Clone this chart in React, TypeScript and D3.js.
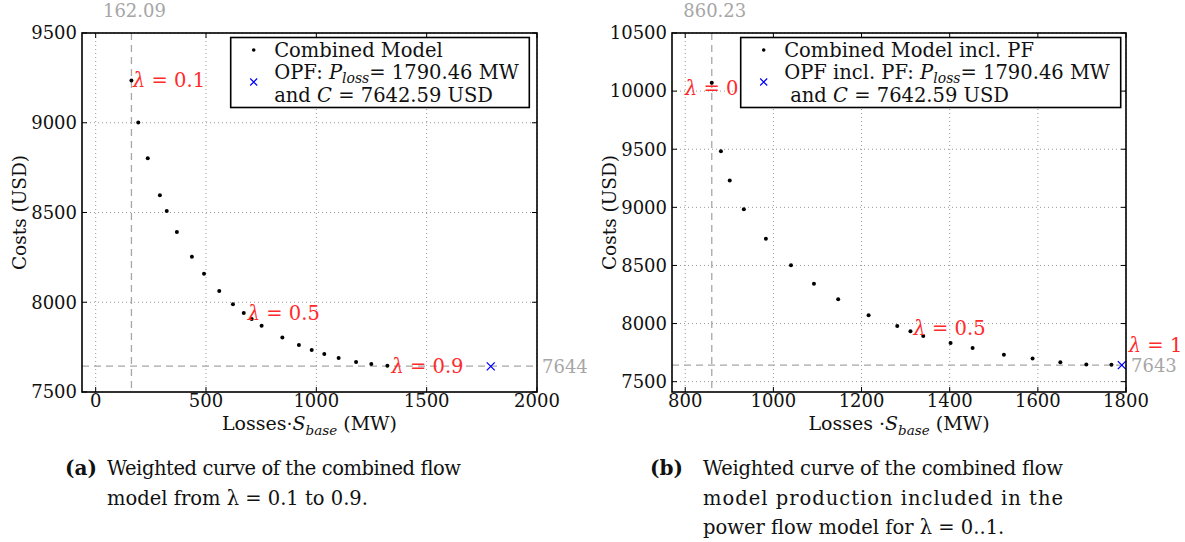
import React from "react";
import * as d3 from "d3";

// ---------- data ----------
const leftLoss = [162.09, 193, 236, 291, 322, 368, 436, 491, 560, 622, 671, 707, 752, 846, 921, 979, 1036, 1101, 1180, 1249, 1322];
const leftCost = [9236, 9002, 8802, 8596, 8508, 8391, 8254, 8159, 8063, 7989, 7940, 7907, 7869, 7803, 7762, 7734, 7712, 7689, 7667, 7656, 7646];
const rightLoss = [860.23, 881, 901, 933, 983, 1040, 1092, 1147, 1216, 1281, 1311, 1340, 1402, 1452, 1523, 1588, 1651, 1710, 1767];
const rightCost = [10073, 9482, 9231, 8983, 8729, 8502, 8343, 8208, 8072, 7979, 7934, 7893, 7832, 7789, 7732, 7700, 7668, 7648, 7645];
const opfLoss = 1790.46;
const opfCost = 7642.59;
const leftXTicks = [0, 500, 1000, 1500, 2000];
const leftYTicks = [7500, 8000, 8500, 9000, 9500];
const rightXTicks = [800, 1000, 1200, 1400, 1600, 1800];
const rightYTicks = [7500, 8000, 8500, 9000, 9500, 10000, 10500];
const leftLambdaLabels = [
  { idx: 0, text: "0.1" },
  { idx: 10, text: "0.5" },
  { idx: 20, text: "0.9" },
];
const rightLambdaLabels = [
  { idx: 0, text: "0" },
  { idx: 10, text: "0.5" },
];

const SERIF = "DejaVu Serif, serif";
const RED = "#ff2b2b";
const GREY = "#a6a6a6";

type PanelProps = {
  x0: number; x1: number; y0: number; y1: number;
  xDomain: [number, number]; yDomain: [number, number];
  xTicks: number[]; yTicks: number[];
  xs: number[]; ys: number[];
  vLine: number; vLabel: string; hLine: number; hLabel: string;
  lambdas: { idx: number; text: string }[];
  lambdaStyle: "left" | "right";
  legend: { x: number; w: number; line1: string; line2: string; indent3: number };
  xLabelPrefix: string;
};

const T = (size: number) => ({ fontFamily: SERIF, fontSize: size });

function Lambda({ x, y, text, anchor = "start" }: { x: number; y: number; text: string; anchor?: string }) {
  return (
    <text x={x} y={y} dy="0.35em" fill={RED} style={T(19.5)} textAnchor={anchor}>
      <tspan fontStyle="italic">λ</tspan> = {text}
    </text>
  );
}

function Panel(p: PanelProps) {
  const xs = d3.scaleLinear().domain(p.xDomain).range([p.x0, p.x1]);
  const ys = d3.scaleLinear().domain(p.yDomain).range([p.y1, p.y0]);
  const tick = 5;
  const vx = xs(p.vLine);
  const hy = ys(p.hLine);
  const ox = xs(opfLoss);
  const oy = ys(opfCost);
  const midX = (p.x0 + p.x1) / 2;
  const midY = (p.y0 + p.y1) / 2;
  const L = p.legend;
  return (
    <g>
      {p.xTicks.map((t) => (
        <line key={"gx" + t} x1={xs(t)} x2={xs(t)} y1={p.y0} y2={p.y1} stroke="#9a9a9a" strokeWidth={1} strokeDasharray="1,3" />
      ))}
      {p.yTicks.map((t) => (
        <line key={"gy" + t} x1={p.x0} x2={p.x1} y1={ys(t)} y2={ys(t)} stroke="#9a9a9a" strokeWidth={1} strokeDasharray="1,3" />
      ))}
      <line x1={vx} x2={vx} y1={p.y0} y2={p.y1} stroke={GREY} strokeWidth={1.3} strokeDasharray="7,5" />
      <line x1={p.x0} x2={p.x1} y1={hy} y2={hy} stroke={GREY} strokeWidth={1.3} strokeDasharray="7,5" />
      {p.xs.map((v, i) => (
        <circle key={"p" + i} cx={xs(v)} cy={ys(p.ys[i])} r={2} fill="black" />
      ))}
      <path d={`M${ox - 4},${oy - 4}L${ox + 4},${oy + 4}M${ox - 4},${oy + 4}L${ox + 4},${oy - 4}`} stroke="#0000ff" strokeWidth={1.3} />
      {p.lambdas.map((l) => {
        const px = xs(p.xs[l.idx]);
        const py = ys(p.ys[l.idx]);
        if (p.lambdaStyle === "right" && l.idx === 0) {
          return <Lambda key={l.text} x={px} y={py + 6} text={l.text} anchor="middle" />;
        }
        if (p.lambdaStyle === "right") {
          return <Lambda key={l.text} x={px + 3} y={py - 3} text={l.text} />;
        }
        return <Lambda key={l.text} x={px + (l.idx === 0 ? 1.5 : 4)} y={py} text={l.text} />;
      })}
      {p.lambdaStyle === "right" && <Lambda x={ox + 7} y={oy - 20} text="1" />}
      <text x={vx + 3} y={17} textAnchor="middle" fill={GREY} style={T(18)}>{p.vLabel}</text>
      <text x={p.x1 + 5} y={hy} dy="0.4em" fill={GREY} style={T(18)}>{p.hLabel}</text>
      <rect x={p.x0} y={p.y0} width={p.x1 - p.x0} height={p.y1 - p.y0} fill="none" stroke="black" strokeWidth={1.6} />
      {p.xTicks.map((t) => (
        <g key={"tx" + t}>
          <line x1={xs(t)} x2={xs(t)} y1={p.y1} y2={p.y1 - tick} stroke="black" strokeWidth={1} />
          <line x1={xs(t)} x2={xs(t)} y1={p.y0} y2={p.y0 + tick} stroke="black" strokeWidth={1} />
          <text x={xs(t)} y={p.y1 + 15} textAnchor="middle" style={T(18)} fill="#111">{t}</text>
        </g>
      ))}
      {p.yTicks.map((t) => (
        <g key={"ty" + t}>
          <line x1={p.x0} x2={p.x0 + tick} y1={ys(t)} y2={ys(t)} stroke="black" strokeWidth={1} />
          <line x1={p.x1} x2={p.x1 - tick} y1={ys(t)} y2={ys(t)} stroke="black" strokeWidth={1} />
          <text x={p.x0 - 5} y={ys(t)} dy="0.35em" textAnchor="end" style={T(18)} fill="#111">{t}</text>
        </g>
      ))}
      <text x={midX} y={p.y1 + 38} textAnchor="middle" style={T(19)} fill="#111">
        {p.xLabelPrefix}
        <tspan fontStyle="italic">S</tspan>
        <tspan fontStyle="italic" style={{ fontSize: 13.5 }} dy={5}>base</tspan>
        <tspan dy={-5}> (MW)</tspan>
      </text>
      <text transform={`translate(${p.x0 - 56},${midY}) rotate(-90)`} textAnchor="middle" style={T(18.5)} fill="#111">
        Costs (USD)
      </text>
      <rect x={L.x} y={37.5} width={L.w} height={70} fill="white" stroke="black" strokeWidth={1.6} />
      <circle cx={L.x + 23} cy={50} r={1.8} fill="black" />
      <path d={`M${L.x + 19.5},78.5L${L.x + 26.5},85.5M${L.x + 19.5},85.5L${L.x + 26.5},78.5`} stroke="#0000ff" strokeWidth={1.2} />
      <text x={L.x + 43.5} y={50} dy="0.35em" style={T(19.5)} fill="#111">{L.line1}</text>
      <text x={L.x + 43.5} y={72} dy="0.35em" style={T(19.5)} fill="#111">
        {L.line2}
        <tspan fontStyle="italic">P</tspan>
        <tspan fontStyle="italic" style={{ fontSize: 14 }} dy={4}>loss</tspan>
        <tspan dy={-4}>= 1790.46 MW</tspan>
      </text>
      <text x={L.x + 43.5 + L.indent3} y={95} dy="0.35em" style={T(19.5)} fill="#111">
        and <tspan fontStyle="italic">C</tspan> = 7642.59 USD
      </text>
    </g>
  );
}

function Caption({ x, tx, label, lines, width }: { x: number; tx: number; label: string; lines: string[]; width: number }) {
  return (
    <g fill="#111">
      <text x={x} y={475} style={{ ...T(20), fontWeight: "bold" }}>{label}</text>
      {lines.map((l, i) => {
        const justify = i < lines.length - 1;
        return (
          <text key={i} x={tx} y={475 + i * 29.5} style={T(19.5)} {...(justify ? { textLength: width, lengthAdjust: "spacing" } : {})}>
            {l}
          </text>
        );
      })}
    </g>
  );
}

export default function App() {
  return (
    <svg width={1185} height={542} style={{ position: "absolute", left: 0, top: 0, background: "white" }}>
      <rect width={1185} height={542} fill="white" />
      <Panel
        x0={82} x1={537} y0={33} y1={392}
        xDomain={[-62, 2000]} yDomain={[7500, 9500]}
        xTicks={leftXTicks} yTicks={leftYTicks}
        xs={leftLoss} ys={leftCost}
        vLine={162.09} vLabel="162.09" hLine={7644} hLabel="7644"
        lambdas={leftLambdaLabels} lambdaStyle="left"
        legend={{ x: 230.7, w: 298.6, line1: "Combined Model", line2: "OPF: ", indent3: 0 }}
        xLabelPrefix="Losses·"
      />
      <Panel
        x0={672} x1={1126} y0={33} y1={392}
        xDomain={[770, 1800]} yDomain={[7411, 10500]}
        xTicks={rightXTicks} yTicks={rightYTicks}
        xs={rightLoss} ys={rightCost}
        vLine={860.23} vLabel="860.23" hLine={7643} hLabel="7643"
        lambdas={rightLambdaLabels} lambdaStyle="right"
        legend={{ x: 740.7, w: 380, line1: "Combined Model incl. PF", line2: "OPF incl. PF: ", indent3: 6 }}
        xLabelPrefix="Losses ·"
      />
      <Caption x={65} tx={107} label="(a)" width={354} lines={["Weighted curve of the combined flow", "model from λ = 0.1 to 0.9."]} />
      <Caption x={650} tx={703} label="(b)" width={360} lines={["Weighted curve of the combined flow", "model production included in the", "power flow model for λ = 0..1."]} />
    </svg>
  );
}
